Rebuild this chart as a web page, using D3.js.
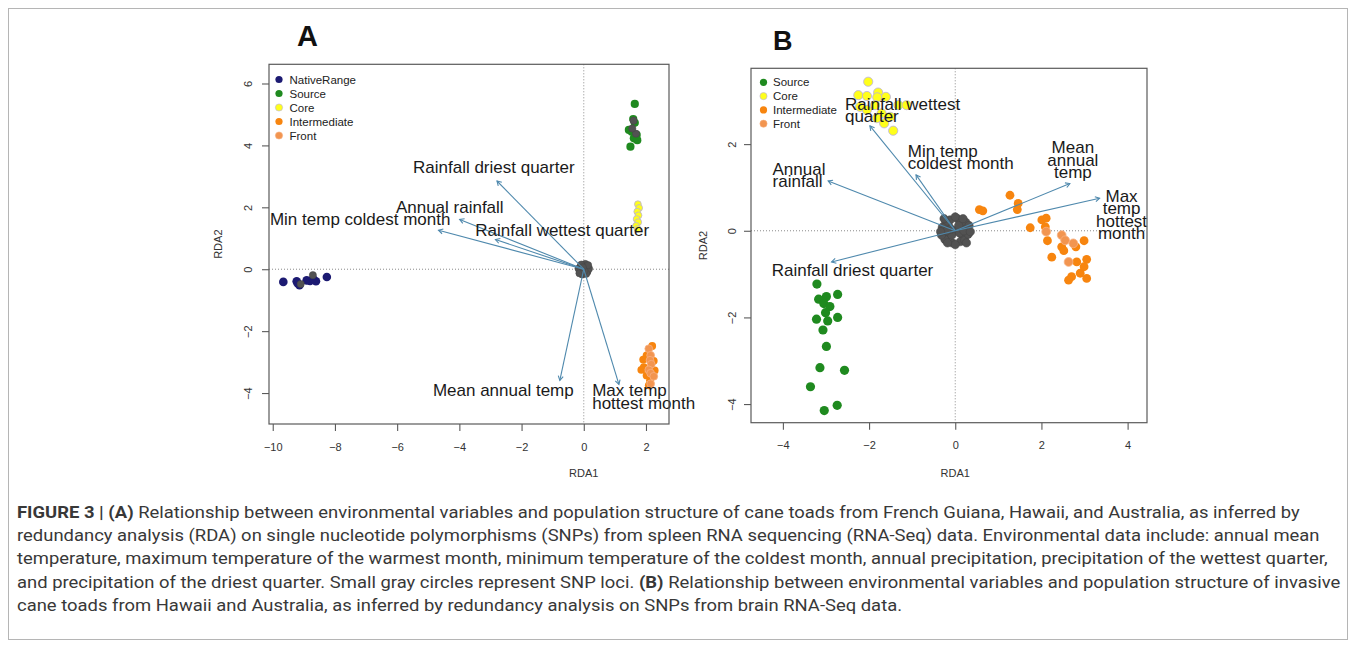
<!DOCTYPE html>
<html>
<head>
<meta charset="utf-8">
<script src="https://cdn.jsdelivr.net/npm/d3@7"></script>
<style>
  html, body { margin: 0; padding: 0; background: #fff; }
  svg { display: block; font-family: "Liberation Sans", Arial, Helvetica, sans-serif; }
</style>
</head>
<body>
<svg id="fig" width="1355" height="647"></svg>
<script>
// ---------------- DATA ----------------
// Panel A (spleen RNA-Seq RDA)
const groupsA = ["NativeRange", "Source", "Core", "Intermediate", "Front"];
const aNativeRange = [[-9.66,-0.41],[-9.23,-0.39],[-9.14,-0.52],[-8.91,-0.36],[-8.80,-0.38],[-8.61,-0.39],[-8.26,-0.25],[-8.70,-0.31],[-9.20,-0.45]];
const aSource = [[1.64,5.34],[1.59,4.85],[1.64,4.73],[1.45,4.50],[1.54,4.44],[1.70,4.34],[1.61,4.23],[1.50,3.96],[1.72,4.17]];
const aCore = [[1.74,2.10],[1.78,1.98],[1.72,1.86],[1.76,1.74],[1.70,1.62],[1.75,1.52],[1.68,1.40],[1.73,1.30]];
const aIntermediate = [[2.20,-2.48],[2.02,-2.78],[1.91,-2.92],[2.25,-2.96],[1.93,-3.16],[1.85,-3.25],[2.28,-3.27],[2.02,-3.43],[2.13,-3.59],[2.09,-3.75]];
const aFront = [[2.09,-2.57],[2.15,-2.78],[2.13,-2.94],[2.17,-3.07],[2.09,-3.25],[2.15,-3.36],[2.25,-3.46],[2.15,-3.70]];
const aSNP = [[0,0],[0.10,0.10],[-0.10,0.10],[0.12,-0.08],[-0.12,-0.10],[0.05,0.17],[-0.05,-0.17],[0.17,0.02],[-0.17,0.02],[0.08,-0.15],[-0.08,0.15],[0.14,0.13],[-0.14,-0.13],[0.02,-0.05],[-0.03,0.06],[1.60,4.80],[1.68,4.38],[1.56,4.55],[-8.71,-0.19],[-9.10,-0.48]];
const aArrowNames = ["Rainfall driest quarter","Annual rainfall","Min temp coldest month","Rainfall wettest quarter","Mean annual temp","Max temp hottest month"];
const aArrowX = [-2.79,-3.99,-4.67,-2.84,-0.77,1.13];
const aArrowY = [2.85,1.61,1.26,0.96,-3.59,-3.72];
const aLabelLines = [["Rainfall driest quarter"],["Annual rainfall"],["Min temp coldest month"],["Rainfall wettest quarter"],["Mean annual temp"],["Max temp","hottest month"]];
const aLabelX = [-5.49,-6.04,-10.09,-3.49,-4.85,0.27];
const aLabelY = [3.10,1.82,1.42,1.08,-4.08,-4.11];
const aLabelAnchor = ["start","start","start","start","start","start"];
const aTicksX = [-10,-8,-6,-4,-2,0,2];
const aTicksY = [-4,-2,0,2,4,6];

// Panel B (brain RNA-Seq RDA)
const groupsB = ["Source", "Core", "Intermediate", "Front"];
const bSource = [[-3.21,-1.23],[-2.99,-1.52],[-2.73,-1.47],[-3.17,-1.58],[-3.05,-1.68],[-2.91,-1.75],[-3.01,-1.89],[-3.22,-2.04],[-2.73,-2.00],[-2.96,-2.08],[-3.07,-2.29],[-2.99,-2.67],[-3.14,-3.16],[-2.57,-3.22],[-3.36,-3.60],[-2.74,-4.03],[-3.04,-4.15]];
const bCore = [[-2.02,3.44],[-2.25,3.13],[-2.05,3.11],[-1.79,3.19],[-1.61,3.09],[-1.81,3.08],[-2.21,2.86],[-2.05,2.79],[-1.86,2.90],[-1.32,2.90],[-1.13,2.90],[-1.71,2.71],[-1.82,2.60],[-1.65,2.48],[-1.44,2.31],[-1.51,2.63]];
const bIntermediate = [[0.56,0.49],[0.64,0.46],[1.27,0.82],[1.46,0.63],[1.44,0.49],[1.74,0.07],[2.01,0.25],[2.11,0.29],[2.09,0.09],[2.14,-0.23],[2.24,-0.61],[2.47,-0.37],[2.52,-0.46],[2.80,-0.37],[2.99,-0.23],[2.82,-0.72],[3.05,-0.66],[2.99,-0.83],[2.70,-1.06],[2.90,-0.98],[3.05,-1.10],[2.63,-1.14]];
const bFront = [[2.11,-0.02],[2.47,-0.10],[2.55,-0.22],[2.74,-0.29],[2.63,-0.72]];
const bSNP = [[0,0],[0.15,0.10],[-0.15,0.10],[0.18,-0.12],[-0.18,-0.12],[0.05,0.28],[-0.07,-0.28],[0.28,0.03],[-0.28,0.02],[0.12,-0.25],[-0.12,0.25],[0.24,0.20],[-0.24,-0.20],[0.22,-0.22],[-0.22,0.20],[0.30,-0.08],[-0.30,0.08],[0.08,0.12],[-0.08,-0.10],[0.00,-0.32],[0.00,0.32],[0.32,0.12],[-0.32,-0.10],[0.18,0.28],[-0.18,-0.28],[0.26,-0.28],[-0.26,0.28],[0.10,-0.05],[-0.10,0.04],[0.20,0.00],[-0.20,0.00],[0.35,-0.02],[-0.34,-0.02]];
const bArrowNames = ["Rainfall wettest quarter","Min temp coldest month","Annual rainfall","Rainfall driest quarter","Mean annual temp","Max temp hottest month"];
const bArrowX = [-1.98,-0.91,-2.95,-2.87,2.66,3.35];
const bArrowY = [2.42,1.29,1.15,-0.72,1.09,0.75];
const bLabelLines = [["Rainfall wettest","quarter"],["Min temp","coldest month"],["Annual","rainfall"],["Rainfall driest quarter"],["Mean","annual","temp"],["Max","temp","hottest","month"]];
const bLabelX = [-2.56,-1.10,-4.24,-4.26,2.73,3.86];
const bLabelY = [2.79,1.71,1.29,-1.05,1.79,0.67];
const bLabelAnchor = ["start","start","start","start","middle","middle"];
const bTicksX = [-4,-2,0,2,4];
const bTicksY = [-4,-2,0,2];

const captionLines = [
  [["FIGURE 3 | (A)",true],[" Relationship between environmental variables and population structure of cane toads from French Guiana, Hawaii, and Australia, as inferred by",false]],
  [["redundancy analysis (RDA) on single nucleotide polymorphisms (SNPs) from spleen RNA sequencing (RNA-Seq) data. Environmental data include: annual mean",false]],
  [["temperature, maximum temperature of the warmest month, minimum temperature of the coldest month, annual precipitation, precipitation of the wettest quarter,",false]],
  [["and precipitation of the driest quarter. Small gray circles represent SNP loci. ",false],["(B)",true],[" Relationship between environmental variables and population structure of invasive",false]],
  [["cane toads from Hawaii and Australia, as inferred by redundancy analysis on SNPs from brain RNA-Seq data.",false]]
];

// ---------------- STYLES ----------------
const colors = {NativeRange:"#1c1a72", Source:"#1f8a1f", Core:"#ffff1a", Intermediate:"#f7850f", Front:"#f29550"};
const strokes = {NativeRange:"none", Source:"none", Core:"#b9aee0", Intermediate:"none", Front:"#f7b080"};
const arrowColor = "#4f89ad";
const frameColor = "#5a5a5a";

const svg = d3.select("#fig");
svg.append("rect").attr("x",0).attr("y",0).attr("width",1355).attr("height",647).attr("fill","#fff");
svg.append("rect").attr("x",8.5).attr("y",8.5).attr("width",1339).attr("height",631)
   .attr("fill","none").attr("stroke","#b5b5b5").attr("stroke-width",1);

function drawPanel(cfg) {
  const x = d3.scaleLinear().domain(cfg.xDomain).range([cfg.left, cfg.right]);
  const y = d3.scaleLinear().domain(cfg.yDomain).range([cfg.bottom, cfg.top]);
  const g = svg.append("g");

  // zero dotted lines
  g.append("line").attr("x1",x(0)).attr("x2",x(0)).attr("y1",cfg.top).attr("y2",cfg.bottom)
    .attr("stroke","#8a8a8a").attr("stroke-width",1).attr("stroke-dasharray","1,2");
  g.append("line").attr("x1",cfg.left).attr("x2",cfg.right).attr("y1",y(0)).attr("y2",y(0))
    .attr("stroke","#8a8a8a").attr("stroke-width",1).attr("stroke-dasharray","1,2");

  // group points
  cfg.groups.forEach(gr => {
    g.append("g").selectAll("circle").data(cfg.series[gr]).join("circle")
      .attr("cx", d => x(d[0])).attr("cy", d => y(d[1]))
      .attr("r", cfg.radius[gr])
      .attr("fill", colors[gr])
      .attr("stroke", strokes[gr]).attr("stroke-width", 0.8);
  });

  // SNP loci
  g.append("g").selectAll("circle").data(cfg.snp).join("circle")
    .attr("cx", d => x(d[0])).attr("cy", d => y(d[1]))
    .attr("r", cfg.snpR).attr("fill","#525252").attr("stroke","#444").attr("stroke-width",0.5);

  // arrows
  cfg.arrowX.forEach((ax, i) => {
    const ay = cfg.arrowY[i];
    const x0 = x(0), y0 = y(0), x1 = x(ax), y1 = y(ay);
    g.append("line").attr("x1",x0).attr("y1",y0).attr("x2",x1).attr("y2",y1)
      .attr("stroke",arrowColor).attr("stroke-width",1.1);
    const ang = Math.atan2(y1 - y0, x1 - x0), L = 5, a = Math.PI / 6;
    const p = [[x1 - L*Math.cos(ang - a), y1 - L*Math.sin(ang - a)],[x1,y1],[x1 - L*Math.cos(ang + a), y1 - L*Math.sin(ang + a)]];
    g.append("path").attr("d", d3.line()(p)).attr("fill","none").attr("stroke",arrowColor).attr("stroke-width",1.1);
  });

  // biplot labels
  cfg.labelLines.forEach((lines, i) => {
    const t = g.append("text").attr("x", x(cfg.labelX[i])).attr("y", y(cfg.labelY[i]))
      .attr("text-anchor", cfg.labelAnchor[i]).attr("font-size", 17).attr("fill","#1a1a1a");
    lines.forEach((ln, j) => {
      t.append("tspan").attr("x", x(cfg.labelX[i])).attr("dy", j === 0 ? 0 : cfg.lineStep).text(ln);
    });
  });

  // frame
  g.append("rect").attr("x",cfg.left).attr("y",cfg.top).attr("width",cfg.right-cfg.left).attr("height",cfg.bottom-cfg.top)
    .attr("fill","none").attr("stroke",frameColor).attr("stroke-width",1.2);

  // axes
  const xa = g.append("g").attr("transform",`translate(0,${cfg.bottom})`)
    .call(d3.axisBottom(x).tickValues(cfg.ticksX).tickSize(7).tickPadding(cfg.xPad));
  const ya = g.append("g").attr("transform",`translate(${cfg.left},0)`)
    .call(d3.axisLeft(y).tickValues(cfg.ticksY).tickSize(7));
  [xa, ya].forEach(a => {
    a.select(".domain").remove();
    a.selectAll("line").attr("stroke",frameColor).attr("stroke-width",1.1);
    a.selectAll("text").attr("font-size",11).attr("fill","#333").attr("font-family","Liberation Sans, Arial, sans-serif");
  });
  ya.selectAll("text").attr("x",0).attr("dy",0).attr("text-anchor","middle")
    .attr("transform",`translate(${cfg.yLabOff},0) rotate(-90)`);

  // axis titles
  g.append("text").attr("x",x(0)).attr("y",cfg.xTitleY).attr("text-anchor","middle")
    .attr("font-size",11).attr("fill","#333").text("RDA1");
  g.append("text").attr("transform",`translate(${cfg.yTitleX},${(cfg.top+cfg.bottom)/2}) rotate(-90)`)
    .attr("text-anchor","middle").attr("font-size",11).attr("fill","#333").text("RDA2");

  // legend
  cfg.groups.forEach((gr, i) => {
    const cy = cfg.legY + i * cfg.legStep;
    g.append("circle").attr("cx",cfg.legX).attr("cy",cy).attr("r",3.6).attr("fill",colors[gr])
      .attr("stroke", strokes[gr]).attr("stroke-width",0.6);
    g.append("text").attr("x",cfg.legX + cfg.legGap).attr("y",cy + 4).attr("font-size",11.5).attr("fill","#222").text(gr);
  });

  // panel letter
  g.append("text").attr("x",cfg.letterX).attr("y",cfg.letterY).attr("text-anchor","middle")
    .attr("font-size",cfg.letterSize).attr("font-weight","bold").attr("fill","#111").text(cfg.letter);
}

drawPanel({
  left:269, right:669, top:64.3, bottom:424,
  xDomain:[-10.12,2.74], yDomain:[-5.0,6.62],
  groups: groupsA,
  series:{NativeRange:aNativeRange, Source:aSource, Core:aCore, Intermediate:aIntermediate, Front:aFront},
  radius:{NativeRange:4.3, Source:4.1, Core:3.4, Intermediate:3.9, Front:3.9},
  snp:aSNP, snpR:3.6,
  arrowX:aArrowX, arrowY:aArrowY,
  labelLines:aLabelLines, labelX:aLabelX, labelY:aLabelY, labelAnchor:aLabelAnchor, lineStep:13,
  ticksX:aTicksX, ticksY:aTicksY, xPad:12, yLabOff:-17,
  xTitleY:476.5, yTitleX:222,
  legX:279, legY:79.5, legStep:14, legGap:10.5,
  letter:"A", letterX:307.5, letterY:46, letterSize:29
});

drawPanel({
  left:751, right:1147, top:68.3, bottom:422.7,
  xDomain:[-4.74,4.45], yDomain:[-4.43,3.75],
  groups: groupsB,
  series:{Source:bSource, Core:bCore, Intermediate:bIntermediate, Front:bFront},
  radius:{Source:4.6, Core:4.6, Intermediate:4.4, Front:4.4},
  snp:bSNP, snpR:4.2,
  arrowX:bArrowX, arrowY:bArrowY,
  labelLines:bLabelLines, labelX:bLabelX, labelY:bLabelY, labelAnchor:bLabelAnchor, lineStep:12.5,
  ticksX:bTicksX, ticksY:bTicksY, xPad:11.5, yLabOff:-15.5,
  xTitleY:477, yTitleX:707,
  legX:763.5, legY:82.3, legStep:13.8, legGap:9.5,
  letter:"B", letterX:782.7, letterY:50, letterSize:27
});

// caption: one common horizontal scale, fitted on the longest line
const capBase = [518, 541, 564, 588, 611];
const capTexts = captionLines.map((segs, i) => {
  const t = svg.append("text").attr("x",17).attr("y",capBase[i]).attr("font-size",16.5)
    .attr("fill","#383838").attr("font-family","Roboto, 'Liberation Sans', sans-serif");
  segs.forEach(s => t.append("tspan").attr("font-weight", s[1] ? "bold" : "normal").text(s[0]));
  return t;
});
const kCap = (1341 - 17) / capTexts[3].node().getComputedTextLength();
capTexts.forEach(t => t.attr("transform",`translate(17,0) scale(${kCap},1) translate(-17,0)`));
</script>
</body>
</html>
